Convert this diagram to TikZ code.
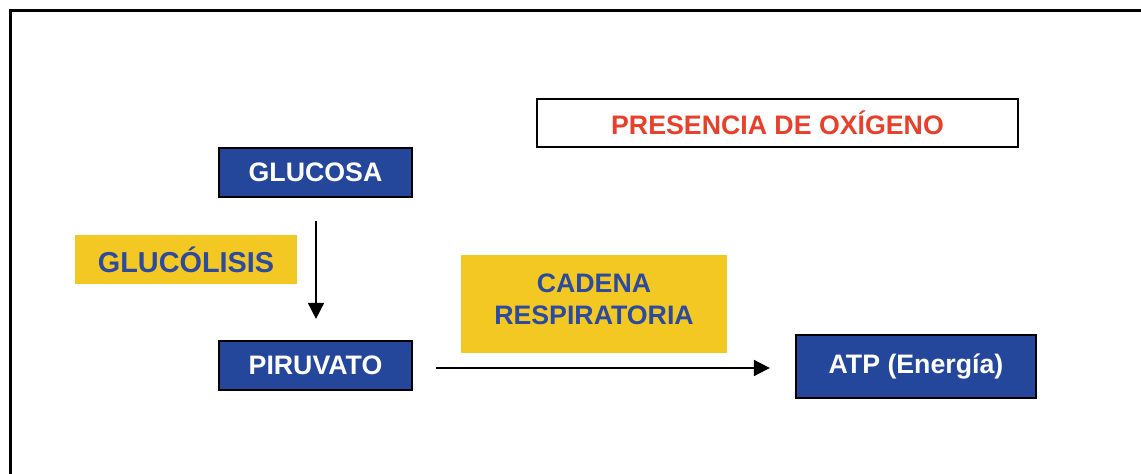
\documentclass[tikz,border=0pt]{standalone}
\usepackage{fontspec}
\setmainfont{Liberation Sans}
\usetikzlibrary{arrows, arrows.meta}
\usetikzlibrary{calc}

\definecolor{boxblue}{HTML}{24479C}
\definecolor{textblue}{HTML}{2B4AA0}
\definecolor{boxyellow}{HTML}{F4C822}
\definecolor{textred}{HTML}{E8402A}

\begin{document}
\begin{tikzpicture}[x=0.01cm, y=-0.01cm,
    bluebox/.style={rectangle, draw=black, line width=0.6pt, fill=boxblue, text=white,
      inner sep=0pt, font=\fontsize{7.6}{9}\selectfont\bfseries},
    yellowbox/.style={rectangle, fill=boxyellow, text=textblue, inner sep=0pt,
      align=center, font=\fontsize{7.6}{9}\selectfont\bfseries},
    flecha/.style={line width=0.5pt, -{Triangle[length=1.6mm, width=1.6mm]}}]
      \useasboundingbox (0,0) rectangle (1141,474);
      \draw[line width=0.6pt] (1141,10.5) -- (10.5,10.5) -- (10.5,474);

      \node[rectangle, draw=black, line width=0.6pt, fill=white, text=textred, inner sep=0pt,
        minimum width=4.81cm, minimum height=0.48cm, font=\fontsize{7.6}{9}\selectfont\bfseries]
        (oxigeno) at (777.5,123) {PRESENCIA DE OXÍGENO};
      \node[bluebox, minimum width=1.93cm, minimum height=0.49cm] (glucosa) at (315.5,172.5) {GLUCOSA};
      \node[yellowbox, minimum width=2.22cm, minimum height=0.49cm,
        font=\fontsize{8.2}{9}\selectfont\bfseries] (glucolisis) at (186,259.5) {GLUCÓLISIS};
      \node[bluebox, minimum width=1.93cm, minimum height=0.49cm] (piruvato) at (315.5,365.5) {PIRUVATO};
      \node[yellowbox, minimum width=2.66cm, minimum height=0.98cm, text depth=0.1cm]
        (cadena) at (594,304) {CADENA\\RESPIRATORIA};
      \node[bluebox, minimum width=2.40cm, minimum height=0.63cm] (atp) at (916,366.5) {ATP (Energía)};

      \draw[flecha, shorten <=0.23cm, shorten >=0.21cm] ([xshift=0.005cm]glucosa.south) -- ([xshift=0.005cm]piruvato.north);
      \draw[flecha, shorten <=0.23cm, shorten >=0.25cm] ([yshift=-0.025cm]piruvato.east) -- ([yshift=-0.015cm]atp.west);
\end{tikzpicture}
\end{document}
